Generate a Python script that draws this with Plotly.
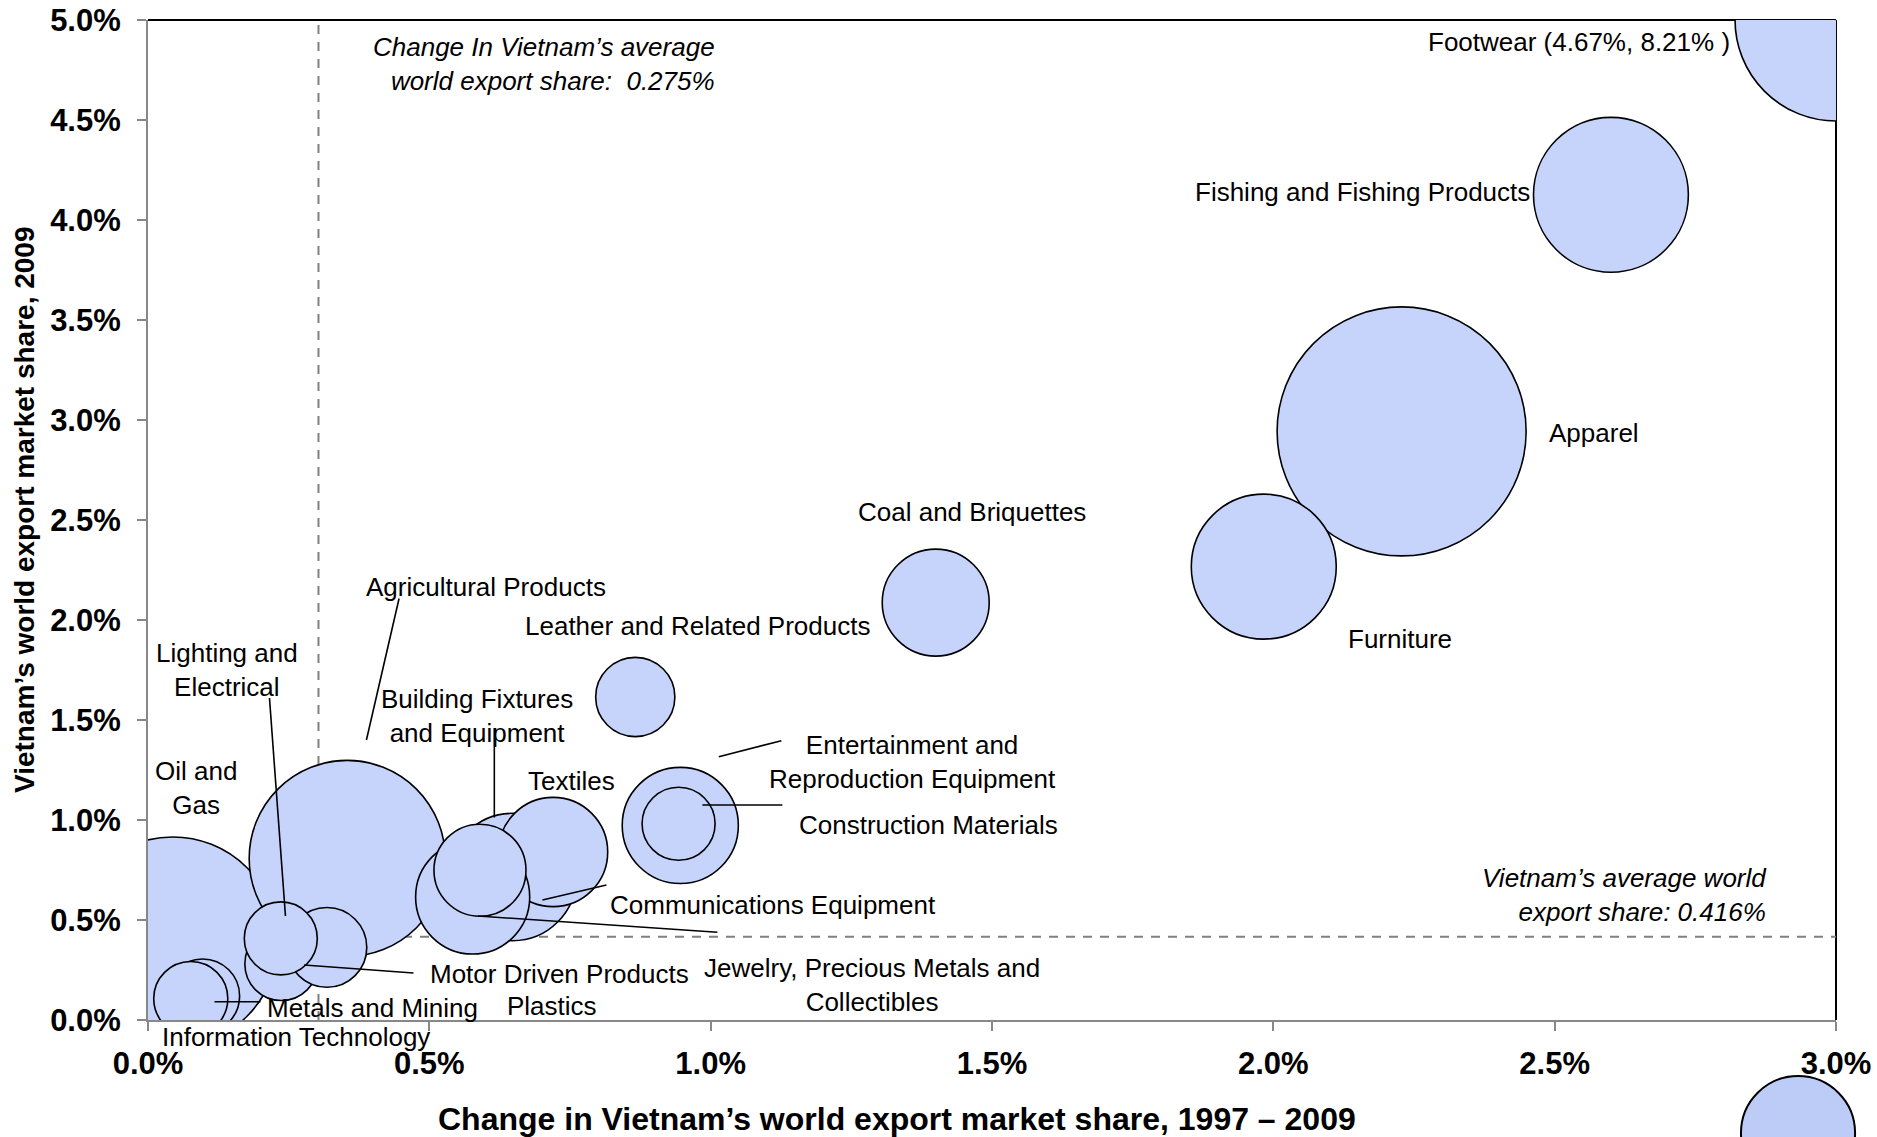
import plotly.graph_objects as go

# ---------------- data ----------------
categories = [
    "Footwear", "Fishing and Fishing Products", "Apparel", "Furniture",
    "Coal and Briquettes", "Leather and Related Products", "Oil and Gas",
    "Agricultural Products", "Building Fixtures and Equipment", "Textiles",
    "Communications Equipment", "Jewelry, Precious Metals and Collectibles",
    "Information Technology", "Metals and Mining", "Plastics",
    "Motor Driven Products", "Lighting and Electrical",
    "Entertainment and Reproduction Equipment", "Construction Materials",
]
# change in Vietnam's world export market share 1997-2009 (%)
change_share = [4.67, 2.600, 2.228, 1.983, 1.400, 0.866, 0.044, 0.354, 0.648,
                0.720, 0.577, 0.590, 0.097, 0.076, 0.237, 0.318, 0.236,
                0.946, 0.943]
# Vietnam's world export market share 2009 (%)
share_2009 = [8.21, 4.126, 2.943, 2.267, 2.087, 1.615, 0.390, 0.808, 0.715,
              0.840, 0.615, 0.749, 0.120, 0.107, 0.280, 0.363, 0.408,
              0.973, 0.981]
# bubble size: export value (relative units)
export_value = [52.0, 30.6, 79.1, 26.8, 14.6, 8.0, 56.3, 49.0, 20.7,
                15.2, 16.6, 10.8, 7.0, 7.0, 6.8, 8.1, 6.8, 17.2, 6.8]

avg_change = 0.275
avg_share = 0.416
x_ticks = [0.0, 0.5, 1.0, 1.5, 2.0, 2.5, 3.0]
y_ticks = [0.0, 0.5, 1.0, 1.5, 2.0, 2.5, 3.0, 3.5, 4.0, 4.5, 5.0]
X_MAX, Y_MAX = 3.0, 5.0

# ---------------- figure ----------------
FONT = "Liberation Sans, Arial, sans-serif"
FILL = "#C6D4FC"
LBL = 26

plot_x = [min(v, X_MAX) for v in change_share]
plot_y = [min(v, Y_MAX) for v in share_2009]

fig = go.Figure()
fig.add_trace(go.Scatter(
    x=plot_x, y=plot_y, mode="markers", text=categories,
    hoverinfo="text", cliponaxis=True,
    marker=dict(size=export_value, sizemode="area", sizeref=2 / 784,
                color=FILL, opacity=1,
                line=dict(color="black", width=1.6)),
    showlegend=False,
))

# label annotations (layout)
labels = [
    ("Footwear (4.67%, 8.21% )", 2.815, 4.89, "right"),
    ("Fishing and Fishing Products", 2.460, 4.1425, "right"),
    ("Apparel", 2.570, 2.935, "center"),
    ("Coal and Briquettes", 1.465, 2.54, "center"),
    ("Furniture", 2.2255, 1.905, "center"),
    ("Leather and Related Products", 0.977, 1.97, "center"),
    ("Agricultural Products", 0.600, 2.1675, "center"),
    ("Lighting and<br>Electrical", 0.141, 1.7515, "center"),
    ("Building Fixtures<br>and Equipment", 0.5846, 1.52, "center"),
    ("Oil and<br>Gas", 0.086, 1.16, "center"),
    ("Textiles", 0.7525, 1.1975, "center"),
    ("Entertainment and<br>Reproduction Equipment", 1.358, 1.29, "center"),
    ("Construction Materials", 1.387, 0.975, "center"),
    ("Communications Equipment", 1.111, 0.575, "center"),
    ("Jewelry, Precious Metals and<br>Collectibles", 1.2864, 0.175, "center"),
    ("Motor Driven Products", 0.7322, 0.228, "center"),
    ("Plastics", 0.7187, 0.068, "center"),
    ("Metals and Mining", 0.3984, 0.06, "center"),
]
annotations = []
for txt, ax_, ay_, anch in labels:
    annotations.append(dict(text=txt, x=ax_, y=ay_, xref="x", yref="y",
                            showarrow=False, xanchor=anch, yanchor="middle",
                            align="center",
                            font=dict(family=FONT, size=LBL, color="black")))
# label sitting below the axis (paper coordinates so it is not hidden)
annotations.append(dict(text="Information Technology", x=0.2633 / X_MAX,
                        y=-0.083 / Y_MAX, xref="paper", yref="paper",
                        showarrow=False, xanchor="center", yanchor="middle",
                        font=dict(family=FONT, size=LBL, color="black")))

annotations.append(dict(
    text=f"<i>Change In Vietnam’s average<br>world export share:  {avg_change}%</i>",
    x=1.0104, y=4.7825, xref="x", yref="y", showarrow=False,
    xanchor="right", yanchor="middle", align="right",
    font=dict(family=FONT, size=LBL, color="black")))
annotations.append(dict(
    text=f"<i>Vietnam’s average world<br>export share: {avg_share}%</i>",
    x=2.881, y=0.625, xref="x", yref="y", showarrow=False,
    xanchor="right", yanchor="middle", align="right",
    font=dict(family=FONT, size=LBL, color="black")))

# axis titles
annotations.append(dict(
    text="<b>Change in Vietnam’s world export market share, 1997 – 2009</b>",
    x=0.4439, y=-0.099, xref="paper", yref="paper", showarrow=False,
    xanchor="center", yanchor="middle",
    font=dict(family=FONT, size=32, color="black")))
annotations.append(dict(
    text="<b>Vietnam’s world export market share, 2009</b>",
    x=(24 - 148) / (1877 - 148 - 41), y=0.51, xref="paper", yref="paper",
    showarrow=False, textangle=-90, xanchor="center", yanchor="middle",
    font=dict(family=FONT, size=28, color="black")))

# leader lines (layout)
leaders = [
    (0.4462, 2.1075, 0.3882, 1.40),
    (0.2159, 1.61, 0.2443, 0.52),
    (0.6155, 1.46, 0.6155, 1.0125),
    (1.1257, 1.3965, 1.0144, 1.3165),
    (0.9853, 1.075, 1.1274, 1.075),
    (0.701, 0.60, 0.8147, 0.675),
    (0.5865, 0.52, 1.0119, 0.4385),
    (0.2774, 0.275, 0.4718, 0.235),
    (0.1182, 0.0915, 0.1999, 0.0915),
]
shapes = []
# average reference lines (below bubbles)
shapes.append(dict(type="line", xref="x", yref="y", x0=0.303, x1=0.303,
                   y0=0, y1=Y_MAX, layer="below",
                   line=dict(color="#808080", width=2, dash="9px,8px")))
shapes.append(dict(type="line", xref="x", yref="y", x0=0, x1=X_MAX,
                   y0=avg_share, y1=avg_share, layer="below",
                   line=dict(color="#808080", width=2, dash="9px,8px")))
# top/right frame
shapes.append(dict(type="line", xref="paper", yref="paper", x0=0, x1=1,
                   y0=1, y1=1, layer="below", line=dict(color="black", width=2)))
shapes.append(dict(type="line", xref="paper", yref="paper", x0=1, x1=1,
                   y0=0, y1=1, layer="below", line=dict(color="black", width=2)))
for x0, y0, x1, y1 in leaders:
    shapes.append(dict(type="line", xref="x", yref="y", x0=x0, y0=y0,
                       x1=x1, y1=y1, layer="above",
                       line=dict(color="black", width=1.6)))
# legend bubble below the chart
shapes.append(dict(type="circle", xref="paper", yref="paper",
                   x0=0.9437, x1=1.0113, y0=-0.170, y1=-0.056,
                   fillcolor="#BDCCF7", line=dict(color="black", width=2)))

fig.update_layout(
    width=1877, height=1137,
    margin=dict(l=148, r=41, t=20, b=117, autoexpand=False),
    paper_bgcolor="white", plot_bgcolor="white",
    font=dict(family=FONT, color="black"),
    annotations=annotations, shapes=shapes,
    xaxis=dict(range=[0, X_MAX], tickvals=x_ticks,
               ticktext=[f"{v:.1f}%" for v in x_ticks],
               showgrid=False, zeroline=False, showline=True,
               linecolor="#888888", linewidth=2,
               ticks="outside", ticklen=9, tickwidth=2, tickcolor="#888888",
               ticklabelstandoff=6,
               tickfont=dict(family=FONT, size=31, color="black", weight="bold"),
               automargin=False),
    yaxis=dict(range=[0, Y_MAX], tickvals=y_ticks,
               ticktext=[f"{v:.1f}%" for v in y_ticks],
               showgrid=False, zeroline=False, showline=True,
               linecolor="#888888", linewidth=2,
               ticks="outside", ticklen=9, tickwidth=2, tickcolor="#888888",
               ticklabelstandoff=10,
               tickfont=dict(family=FONT, size=31, color="black", weight="bold"),
               automargin=False),
)

fig.write_html("out.html")
